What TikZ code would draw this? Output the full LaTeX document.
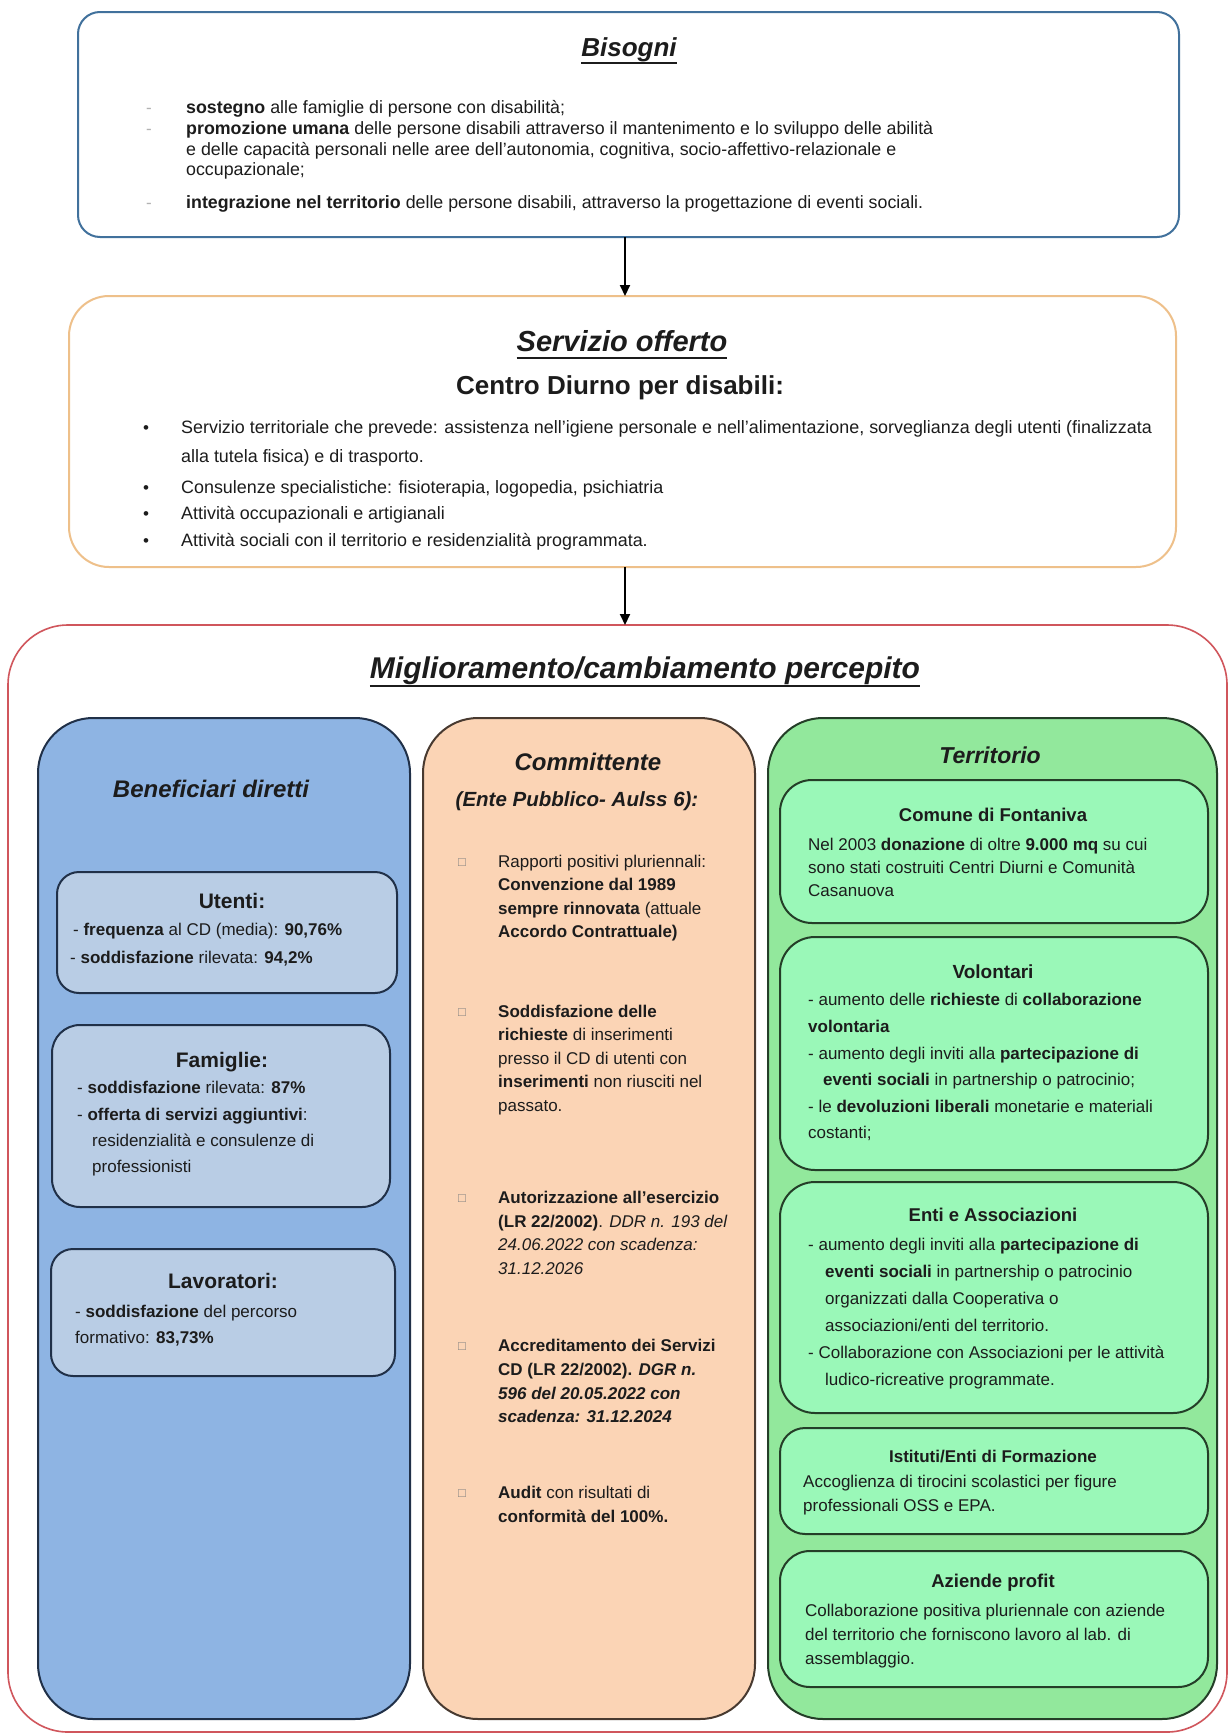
\documentclass[tikz,border=0pt]{standalone}
\usepackage{fontspec}
\setmainfont{Liberation Sans}
\usetikzlibrary{arrows.meta}
\definecolor{bisB}{RGB}{65,113,156}
\definecolor{servB}{RGB}{238,192,138}
\definecolor{redB}{RGB}{208,86,92}
\definecolor{bluF}{RGB}{142,180,227}
\definecolor{bluS}{RGB}{185,205,229}
\definecolor{bluD}{RGB}{32,48,72}
\definecolor{orF}{RGB}{251,212,181}
\definecolor{orD}{RGB}{72,58,48}
\definecolor{grF}{RGB}{146,232,156}
\definecolor{grS}{RGB}{154,248,184}
\definecolor{grD}{RGB}{36,62,40}
\definecolor{ink}{RGB}{28,28,28}
\newcounter{lnc}
\newcommand\Tl[4][]{\stepcounter{lnc}\node[txt,#1] (ln\arabic{lnc}) at (#2,#3) {#4};}
\newcommand\Sz[2]{\fontsize{#1}{#2}\selectfont}
\begin{document}
\begin{tikzpicture}[x=1pt,y=-1pt,
  box/.style={anchor=north west, inner sep=0pt, outer sep=0pt, line width=2pt},
  txt/.style={anchor=base west, inner sep=0pt, text=ink, font=\Sz{17}{20}},
  ctr/.style={anchor=base, inner sep=0pt, text=ink},
  arr/.style={line width=2pt, -{Triangle[length=11pt,width=10pt]}},
  ul/.style={line width=1.8pt, ink}]
\fill[white] (0,0) rectangle (1229,1735);
\useasboundingbox (0,0) rectangle (1229,1735);

% ---------- Bisogni ----------
\node[box, draw=bisB, rounded corners=22pt, minimum width=1101pt, minimum height=225pt] (bis) at (78,12) {};
\node[ctr, font=\Sz{26}{30}\bfseries\itshape] (tbis) at (629,56) {Bisogni};
\draw[ul] ([yshift=-7pt]tbis.base west) -- ([yshift=-7pt]tbis.base east);
\Tl[text=gray!60]{146}{113}{-}
\Tl[text=gray!60]{146}{134}{-}
\Tl[text=gray!60]{146}{208}{-}
\Tl[font=\Sz{17.8}{20}]{186}{113}{\textbf{sostegno} alle famiglie di persone con disabilità;}
\Tl[font=\Sz{17.8}{20}]{186}{134}{\textbf{promozione umana} delle persone disabili attraverso il mantenimento e lo sviluppo delle abilità}
\Tl[font=\Sz{17.8}{20}]{186}{155}{e delle capacità personali nelle aree dell'autonomia, cognitiva, socio-affettivo-relazionale e}
\Tl[font=\Sz{17.8}{20}]{186}{175}{occupazionale;}
\Tl[font=\Sz{17.8}{20}]{186}{208}{\textbf{integrazione nel territorio} delle persone disabili, attraverso la progettazione di eventi sociali.}

% ---------- Servizio ----------
\node[box, draw=servB, rounded corners=40pt, minimum width=1107pt, minimum height=271pt] (serv) at (69,296) {};
\node[ctr, font=\Sz{29}{33}\bfseries\itshape] (tserv) at (622,351) {Servizio offerto};
\draw[ul] ([yshift=-7pt]tserv.base west) -- ([yshift=-7pt]tserv.base east);
\node[ctr, font=\Sz{26}{30}\bfseries] (tcd) at (620,394) {Centro Diurno per disabili:};
\Tl{143}{433}{\textbullet}
\Tl{143}{493}{\textbullet}
\Tl{143}{519}{\textbullet}
\Tl{143}{546}{\textbullet}
\Tl[font=\Sz{17.9}{20}]{181}{433}{Servizio territoriale che prevede: assistenza nell'igiene personale e nell'alimentazione, sorveglianza degli utenti (finalizzata}
\Tl[font=\Sz{17.9}{20}]{181}{462}{alla tutela fisica) e di trasporto.}
\Tl[font=\Sz{17.9}{20}]{181}{493}{Consulenze specialistiche: fisioterapia, logopedia, psichiatria}
\Tl[font=\Sz{17.9}{20}]{181}{519}{Attività occupazionali e artigianali}
\Tl[font=\Sz{17.9}{20}]{181}{546}{Attività sociali con il territorio e residenzialità programmata.}

% ---------- Miglioramento ----------
\node[box, draw=redB, line width=1.6pt, rounded corners=60pt, minimum width=1219pt, minimum height=1107pt] (mig) at (8,625) {};
\node[ctr, font=\Sz{30}{34}\bfseries\itshape] (tmig) at (645,678) {Miglioramento/cambiamento percepito};
\draw[ul] ([yshift=-8pt]tmig.base west) -- ([yshift=-8pt]tmig.base east);

% arrows
\coordinate (ax) at (625,0);
\draw[arr] (bis.south -| ax) -- (serv.north -| ax);
\draw[arr] (serv.south -| ax) -- (mig.north -| ax);

% ---------- Beneficiari ----------
\node[box, draw=bluD, fill=bluF, rounded corners=55pt, minimum width=372pt, minimum height=1001pt] (ben) at (38,718) {};
\node[ctr, font=\Sz{24}{28}\bfseries\itshape] (tben) at (211,797) {Beneficiari diretti};
\node[box, draw=bluD, fill=bluS, rounded corners=22pt, minimum width=340pt, minimum height=121pt] (ute) at (57,872) {};
\node[ctr, font=\Sz{21}{25}\bfseries] (tute) at (232,908) {Utenti:};
\Tl{73}{935}{- \textbf{frequenza} al CD (media): \textbf{90,76\%}}
\Tl{70}{963}{- \textbf{soddisfazione} rilevata: \textbf{94,2\%}}
\node[box, draw=bluD, fill=bluS, rounded corners=28pt, minimum width=338pt, minimum height=182pt] (fam) at (52,1025) {};
\node[ctr, font=\Sz{21}{25}\bfseries] (tfam) at (222,1067) {Famiglie:};
\Tl{77}{1093}{- \textbf{soddisfazione} rilevata: \textbf{87\%}}
\Tl{77}{1120}{- \textbf{offerta di servizi aggiuntivi}:}
\Tl{92}{1146}{residenzialità e consulenze di}
\Tl{92}{1172}{professionisti}
\node[box, draw=bluD, fill=bluS, rounded corners=22pt, minimum width=344pt, minimum height=127pt] (lav) at (51,1249) {};
\node[ctr, font=\Sz{21}{25}\bfseries] (tlav) at (223,1288) {Lavoratori:};
\Tl{75}{1317}{- \textbf{soddisfazione} del percorso}
\Tl{75}{1343}{formativo: \textbf{83,73\%}}

% ---------- Committente ----------
\node[box, draw=orD, fill=orF, rounded corners=55pt, minimum width=332pt, minimum height=1001pt] (com) at (423,718) {};
\node[ctr, font=\Sz{24}{28}\bfseries\itshape] (tcom) at (588,770) {Committente};
\node[ctr, font=\Sz{20.5}{24}\bfseries\itshape] (tente) at (577,806) {(Ente Pubblico- Aulss 6):};
\Tl[text=gray,font=\Sz{13}{15}]{458}{866}{□}
\Tl[text=gray,font=\Sz{13}{15}]{458}{1016}{□}
\Tl[text=gray,font=\Sz{13}{15}]{458}{1202}{□}
\Tl[text=gray,font=\Sz{13}{15}]{458}{1350}{□}
\Tl[text=gray,font=\Sz{13}{15}]{458}{1497}{□}
\Tl{498}{867}{Rapporti positivi pluriennali:}
\Tl{498}{890.5}{\textbf{Convenzione dal 1989}}
\Tl{498}{914}{\textbf{sempre rinnovata} (attuale}
\Tl{498}{937.5}{\textbf{Accordo Contrattuale)}}
\Tl{498}{1017}{\textbf{Soddisfazione delle}}
\Tl{498}{1040.5}{\textbf{richieste} di inserimenti}
\Tl{498}{1064}{presso il CD di utenti con}
\Tl{498}{1087.5}{\textbf{inserimenti} non riusciti nel}
\Tl{498}{1111}{passato.}
\Tl{498}{1203}{\textbf{Autorizzazione all'esercizio}}
\Tl{498}{1227}{\textbf{(LR 22/2002)}. \textit{DDR n. 193 del}}
\Tl{498}{1250}{\textit{24.06.2022 con scadenza:}}
\Tl{498}{1274}{\textit{31.12.2026}}
\Tl{498}{1351}{\textbf{Accreditamento dei Servizi}}
\Tl{498}{1375}{\textbf{CD (LR 22/2002). \textit{DGR n.}}}
\Tl{498}{1399}{\textbf{\textit{596 del 20.05.2022 con}}}
\Tl{498}{1422}{\textbf{\textit{scadenza: 31.12.2024}}}
\Tl{498}{1498}{\textbf{Audit} con risultati di}
\Tl{498}{1522}{\textbf{conformità del 100\%.}}

% ---------- Territorio ----------
\node[box, draw=grD, fill=grF, rounded corners=55pt, minimum width=449pt, minimum height=1001pt] (ter) at (768,718) {};
\node[ctr, font=\Sz{23}{27}\bfseries\itshape] (tter) at (990,763) {Territorio};

\node[box, draw=grD, fill=grS, rounded corners=32pt, minimum width=428pt, minimum height=143pt] (cfo) at (780,780) {};
\node[ctr, font=\Sz{18.5}{22}\bfseries] (tcfo) at (993,821) {Comune di Fontaniva};
\Tl{808}{850}{Nel 2003 \textbf{donazione} di oltre \textbf{9.000 mq} su cui}
\Tl{808}{873}{sono stati costruiti Centri Diurni e Comunità}
\Tl{808}{896}{Casanuova}

\node[box, draw=grD, fill=grS, rounded corners=35pt, minimum width=428pt, minimum height=233pt] (vol) at (780,937) {};
\node[ctr, font=\Sz{19}{23}\bfseries] (tvol) at (993,978) {Volontari};
\Tl{808}{1005}{- aumento delle \textbf{richieste} di \textbf{collaborazione}}
\Tl{808}{1032}{\textbf{volontaria}}
\Tl{808}{1059}{- aumento degli inviti alla \textbf{partecipazione di}}
\Tl{823}{1085}{\textbf{eventi sociali} in partnership o patrocinio;}
\Tl{808}{1112}{- le \textbf{devoluzioni liberali} monetarie e materiali}
\Tl{808}{1138}{costanti;}

\node[box, draw=grD, fill=grS, rounded corners=35pt, minimum width=428pt, minimum height=231pt] (ent) at (780,1182) {};
\node[ctr, font=\Sz{18.5}{22}\bfseries] (tent) at (993,1221) {Enti e Associazioni};
\Tl{808}{1250}{- aumento degli inviti alla \textbf{partecipazione di}}
\Tl{825}{1277}{\textbf{eventi sociali} in partnership o patrocinio}
\Tl{825}{1304}{organizzati dalla Cooperativa o}
\Tl{825}{1331}{associazioni/enti del territorio.}
\Tl{808}{1358}{- Collaborazione con Associazioni per le attività}
\Tl{825}{1385}{ludico-ricreative programmate.}

\node[box, draw=grD, fill=grS, rounded corners=25pt, minimum width=428pt, minimum height=106pt] (ist) at (780,1428) {};
\node[ctr, font=\Sz{17}{21}\bfseries] (tist) at (993,1462) {Istituti/Enti di Formazione};
\Tl{803}{1487}{Accoglienza di tirocini scolastici per figure}
\Tl{803}{1511}{professionali OSS e EPA.}

\node[box, draw=grD, fill=grS, rounded corners=30pt, minimum width=428pt, minimum height=136pt] (azi) at (780,1551) {};
\node[ctr, font=\Sz{18.5}{22}\bfseries] (tazi) at (993,1587) {Aziende profit};
\Tl{805}{1616}{Collaborazione positiva pluriennale con aziende}
\Tl{805}{1640}{del territorio che forniscono lavoro al lab. di}
\Tl{805}{1664}{assemblaggio.}
\end{tikzpicture}
\end{document}
